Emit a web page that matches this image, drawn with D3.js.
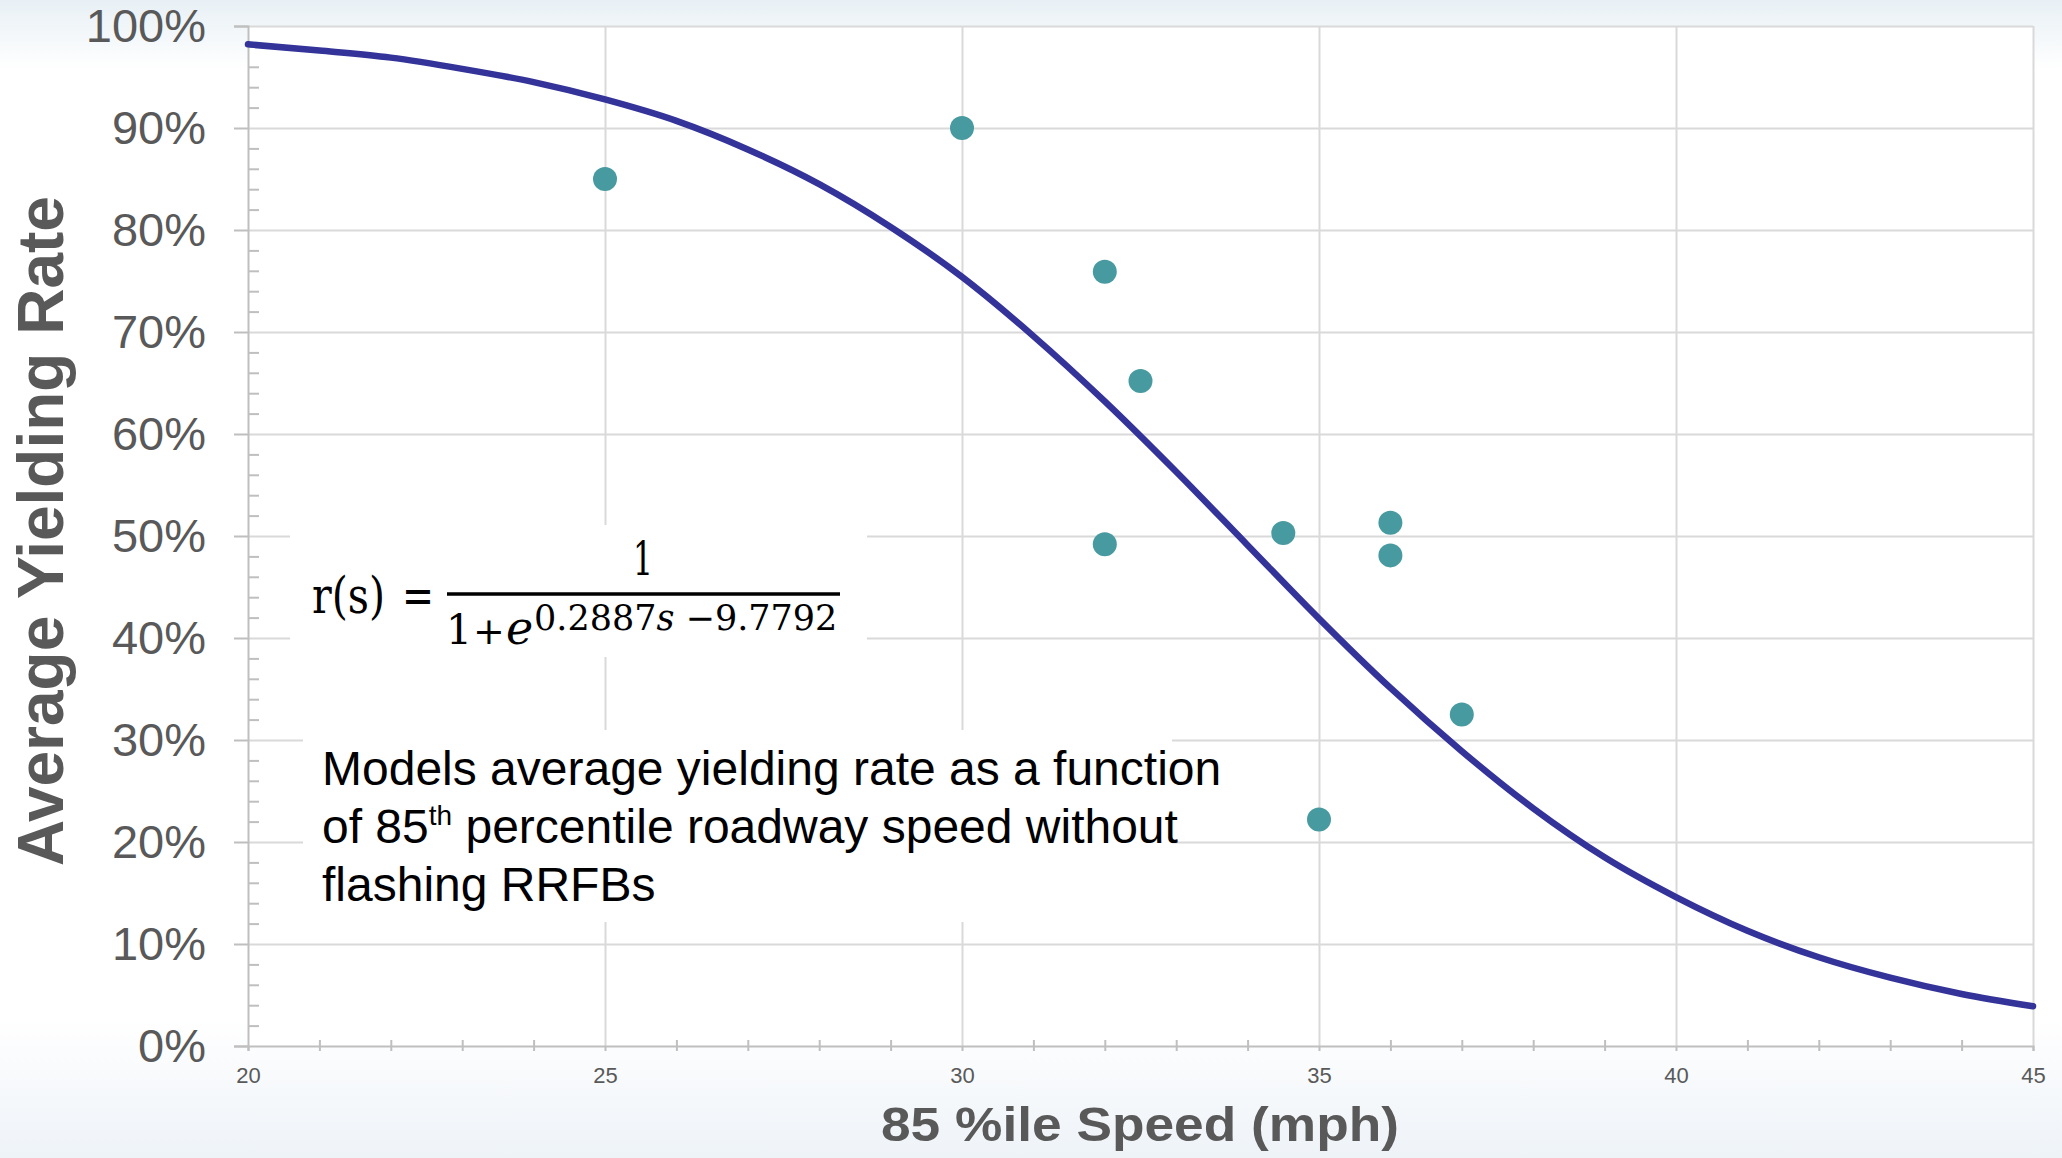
<!DOCTYPE html>
<html><head><meta charset="utf-8">
<script src="https://cdn.jsdelivr.net/npm/d3@7"></script>
<style>body{margin:0;background:#fff;overflow:hidden}</style>
</head><body>
<svg id="c" width="2062" height="1158"></svg>
<script>
// Observed points: 85th percentile speed (mph) vs average yielding rate
const obsSpeed = [25, 30, 32, 32.5, 32, 34.5, 36, 36, 37, 35];
const obsRate  = [0.850, 0.900, 0.759, 0.652, 0.492, 0.503, 0.513, 0.481, 0.325, 0.222];

// Fitted curve at each mph
const curveSpeed = [20,21,22,23,24,25,26,27,28,29,30,31,32,33,34,35,36,37,38,39,40,41,42,43,44,45];
const curveRate  = [0.982,0.976,0.969,0.958,0.945,0.928,0.907,0.879,0.845,0.803,0.754,0.696,0.632,0.563,0.491,0.419,0.351,0.289,0.233,0.185,0.146,0.113,0.087,0.067,0.051,0.039];

const xTicks = [20, 25, 30, 35, 40, 45];
const xTickLabels = ["20", "25", "30", "35", "40", "45"];
const yTicks = [0, 0.1, 0.2, 0.3, 0.4, 0.5, 0.6, 0.7, 0.8, 0.9, 1.0];
const yTickLabels = ["0%","10%","20%","30%","40%","50%","60%","70%","80%","90%","100%"];
const xMinor = [21,22,23,24,26,27,28,29,31,32,33,34,36,37,38,39,41,42,43,44];
const yMinor = [];
for (let i = 0; i < 50; i++) if (i % 5 !== 0) yMinor.push(i * 0.02);

const xTitle = "85 %ile Speed (mph)";
const yTitle = "Average Yielding Rate";
const noteLines = ["Models average yielding rate as a function", "of 85", "th", " percentile roadway speed without", "flashing RRFBs"];

const svg = d3.select("#c");
const L = 248, R = 2033, T = 26, B = 1046;
const x = d3.scaleLinear().domain([20, 45]).range([L, R]);
const y = d3.scaleLinear().domain([0, 1]).range([B, T]);

// background
const defs = svg.append("defs");
const g = defs.append("linearGradient").attr("id","bg").attr("x1",0).attr("x2",0).attr("y1",0).attr("y2",1);
g.append("stop").attr("offset","0%").attr("stop-color","#e8f0f5");
g.append("stop").attr("offset","6%").attr("stop-color","#ffffff");
g.append("stop").attr("offset","88%").attr("stop-color","#ffffff");
g.append("stop").attr("offset","100%").attr("stop-color","#eef3f8");
svg.append("rect").attr("width",2062).attr("height",1158).attr("fill","url(#bg)");
svg.append("rect").attr("x",L).attr("y",T).attr("width",R-L).attr("height",B-T).attr("fill","#fff");

const font = "'Liberation Sans', Arial, sans-serif";
const grey = "#595959";

// horizontal grid
const gy = svg.append("g").attr("transform",`translate(${L},0)`)
  .call(d3.axisLeft(y).tickValues(yTicks.slice(1)).tickSize(-(R-L)).tickFormat(""));
gy.select(".domain").remove();
gy.selectAll("line").attr("stroke","#d9d9d9").attr("stroke-width",2);

// vertical grid
const gx = svg.append("g").attr("transform",`translate(0,${B})`)
  .call(d3.axisBottom(x).tickValues(xTicks.slice(1)).tickSize(-(B-T)).tickFormat(""));
gx.select(".domain").remove();
gx.selectAll("line").attr("stroke","#d9d9d9").attr("stroke-width",2);

// white annotation boxes
svg.append("rect").attr("x",290).attr("y",525).attr("width",577).attr("height",132).attr("fill","#fff");
svg.append("rect").attr("x",303).attr("y",730).attr("width",869).attr("height",192).attr("fill","#fff");

// y axis with labels
const ay = svg.append("g").attr("transform",`translate(${L},0)`)
  .call(d3.axisLeft(y).tickValues(yTicks).tickSize(14).tickPadding(28).tickFormat((d,i)=>yTickLabels[i]));
ay.select(".domain").attr("stroke","#bfbfbf").attr("stroke-width",2);
ay.selectAll("line").attr("stroke","#bfbfbf").attr("stroke-width",2);
ay.selectAll("text").attr("font-family",font).attr("font-size",47).attr("fill",grey);

// y minor ticks
const ym = svg.append("g").attr("transform",`translate(${L},0)`)
  .call(d3.axisRight(y).tickValues(yMinor).tickSize(11).tickFormat(""));
ym.select(".domain").remove();
ym.selectAll("line").attr("stroke","#bfbfbf").attr("stroke-width",2);

// x axis with labels
const ax = svg.append("g").attr("transform",`translate(0,${B})`)
  .call(d3.axisBottom(x).tickValues(xTicks).tickSize(5).tickPadding(16).tickFormat((d,i)=>xTickLabels[i]));
ax.select(".domain").attr("stroke","#bfbfbf").attr("stroke-width",2);
ax.selectAll("line").attr("stroke","#bfbfbf").attr("stroke-width",2);
ax.selectAll("text").attr("font-family",font).attr("font-size",22).attr("fill",grey);

// x minor ticks
const xm = svg.append("g").attr("transform",`translate(0,${B-6})`)
  .call(d3.axisBottom(x).tickValues(xMinor).tickSize(11).tickFormat(""));
xm.select(".domain").remove();
xm.selectAll("line").attr("stroke","#bfbfbf").attr("stroke-width",2);

// fitted curve
const line = d3.line().x((d,i)=>x(curveSpeed[i])).y(d=>y(d)).curve(d3.curveMonotoneX);
svg.append("path").attr("d", line(curveRate)).attr("fill","none")
  .attr("stroke","#333399").attr("stroke-width",6.5).attr("stroke-linecap","round");

// points
svg.append("g").selectAll("circle").data(obsRate).join("circle")
  .attr("cx",(d,i)=>x(obsSpeed[i])).attr("cy",d=>y(d)).attr("r",12).attr("fill","#479aa0");

// axis titles
svg.append("text").attr("x",881).attr("y",1141).attr("font-family",font).attr("font-weight","bold")
  .attr("font-size",48).attr("fill",grey).attr("textLength",518).attr("lengthAdjust","spacingAndGlyphs").text(xTitle);
svg.append("text").attr("transform","translate(63,531) rotate(-90)").attr("text-anchor","middle")
  .attr("font-family",font).attr("font-weight","bold").attr("font-size",64).attr("fill",grey).text(yTitle);

// formula
const serif = "'DejaVu Serif', 'Liberation Serif', serif";
const fs = svg.append("g").attr("font-family",serif).attr("fill","#000");
fs.append("text").attr("x",312).attr("y",613).attr("font-size",50).attr("textLength",73).attr("lengthAdjust","spacingAndGlyphs").text("r(s)");
fs.append("text").attr("x",402).attr("y",613).attr("font-size",50).attr("textLength",32).attr("lengthAdjust","spacingAndGlyphs").text("=");
fs.append("text").attr("x",633).attr("y",575).attr("font-size",46).attr("textLength",20).attr("lengthAdjust","spacingAndGlyphs").text("1");
fs.append("line").attr("x1",447).attr("x2",840).attr("y1",594).attr("y2",594).attr("stroke","#000").attr("stroke-width",3.5);
const den = fs.append("text").attr("y",644).attr("font-size",46);
den.append("tspan").attr("x",446).attr("font-size",41).text("1");
den.append("tspan").attr("x",473).attr("font-size",38).text("+");
den.append("tspan").attr("x",506).attr("font-style","italic").text("e");
den.append("tspan").attr("x",534).attr("dy",-14).attr("font-size",35).text("0.2887");
den.append("tspan").attr("font-size",35).attr("font-style","italic").text("s");
den.append("tspan").attr("font-size",35).text(" \u22129.7792");

// note
const nt = svg.append("g").attr("font-family",font).attr("font-size",48).attr("fill","#000");
nt.append("text").attr("x",322).attr("y",785).text(noteLines[0]);
const l2 = nt.append("text").attr("x",322).attr("y",843);
l2.append("tspan").text(noteLines[1]);
l2.append("tspan").attr("font-size",28).attr("dy",-18).text(noteLines[2]);
l2.append("tspan").attr("dy",18).text(noteLines[3]);
nt.append("text").attr("x",322).attr("y",901).text(noteLines[4]);
</script>
</body></html>
